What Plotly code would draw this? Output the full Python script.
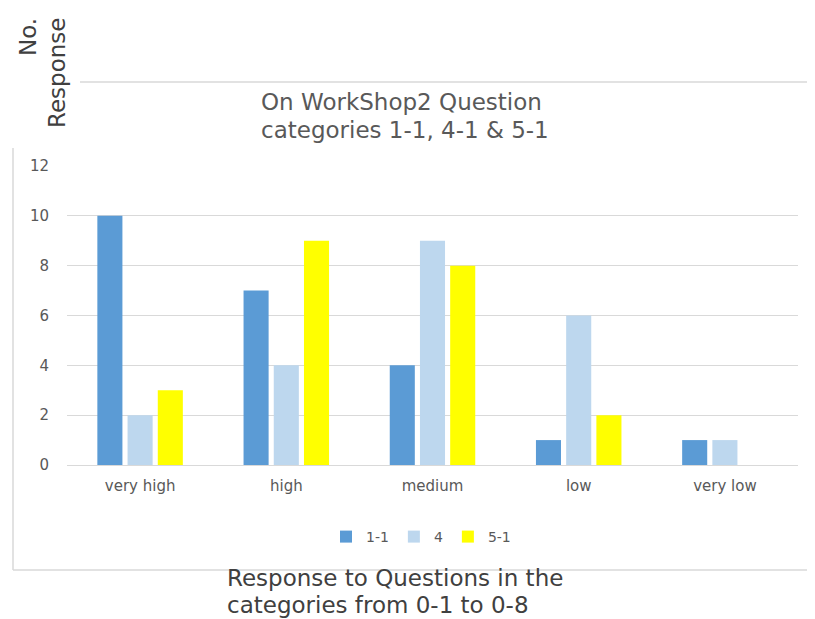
import plotly.graph_objects as go

categories = ["very high", "high", "medium", "low", "very low"]
series_names = ["1-1", "4", "5-1"]
values_1_1 = [10, 7, 4, 1, 1]
values_4 = [2, 4, 9, 6, 1]
values_5_1 = [3, 9, 8, 2, 0]
colors = ["#5B9BD5", "#BDD7EE", "#FFFF00"]
y_ticks = [0, 2, 4, 6, 8, 10, 12]

fig = go.Figure()
for name, vals, col in zip(series_names, [values_1_1, values_4, values_5_1], colors):
    fig.add_trace(go.Bar(x=categories, y=vals, name=name, marker=dict(color=col, line=dict(width=0))))

OFF = 8  # page body margin
W, H = 815 - OFF * 2, 619 - OFF
# plot area in screenshot pixels
PX0, PX1, PY0, PY1 = 67, 798, 166, 465
L, R = PX0 - OFF, W - (PX1 - OFF)
T, B = PY0 - OFF, H - (PY1 - OFF)

def px(x):
    return (x - OFF - L) / (W - L - R)

def py(y):
    return (H - B - (y - OFF)) / (H - T - B)

line_col = "#D9D9D9"
fig.add_shape(type="line", xref="paper", yref="paper", x0=px(80), x1=px(830), y0=py(82), y1=py(82), line=dict(color=line_col, width=1.5))
fig.add_shape(type="line", xref="paper", yref="paper", x0=px(13), x1=px(830), y0=py(570), y1=py(570), line=dict(color=line_col, width=1.5))
fig.add_shape(type="line", xref="paper", yref="paper", x0=px(13), x1=px(13), y0=py(148), y1=py(570), line=dict(color=line_col, width=1.5))

big = 23
title_lines = [("On WorkShop2 Question", 102), ("categories 1-1, 4-1 &amp; 5-1", 130)]
for txt, yc in title_lines:
    fig.add_annotation(xref="paper", yref="paper", x=px(259), y=py(yc), xanchor="left", yanchor="middle",
                       text=txt, showarrow=False, font=dict(family="DejaVu Sans", size=big, color="#595959"))

xtitle_lines = [("Response to Questions in the", 578), ("categories from 0-1 to 0-8", 605)]
for txt, yc in xtitle_lines:
    fig.add_annotation(xref="paper", yref="paper", x=px(225), y=py(yc), xanchor="left", yanchor="middle",
                       text=txt, showarrow=False, font=dict(family="DejaVu Sans", size=big, color="#404040"))

ytitle_lines = [("No.", 28), ("Response", 57)]
for txt, xc in ytitle_lines:
    fig.add_annotation(xref="paper", yref="paper", x=px(xc), y=py(16), xanchor="center", yanchor="top",
                       text=txt, showarrow=False, textangle=-90,
                       font=dict(family="DejaVu Sans", size=big, color="#404040"))

fig.update_layout(
    width=W, height=H,
    margin=dict(l=L, r=R, t=T, b=B, autoexpand=False),
    paper_bgcolor="white", plot_bgcolor="white",
    barmode="group", bargap=0.38, bargroupgap=0.17,
    font=dict(family="DejaVu Sans", color="#595959", size=14),
    showlegend=True,
    legend=dict(orientation="h", x=px(421), xanchor="center", y=py(537), yanchor="middle",
                font=dict(size=14, color="#595959"), itemwidth=30, tracegroupgap=0),
    xaxis=dict(showline=True, linecolor="#D9D9D9", linewidth=1, ticks="", ticklabelstandoff=7,
               tickfont=dict(size=15, color="#595959")),
    yaxis=dict(range=[0, 12], tickvals=y_ticks, showgrid=True, gridcolor="#D9D9D9", gridwidth=1,
               zeroline=False, ticks="", ticklabelstandoff=17, tickfont=dict(size=15, color="#595959")),
)

fig.write_html("out.html")
